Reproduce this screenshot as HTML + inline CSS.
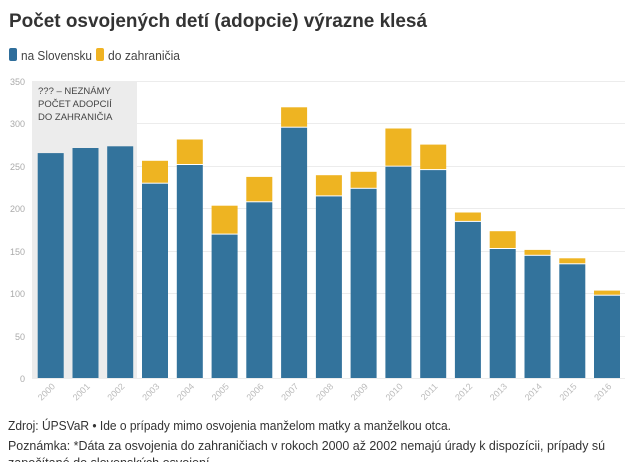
<!DOCTYPE html>
<html><head><meta charset="utf-8"><style>
html,body{margin:0;padding:0;background:#fff;width:640px;height:462px;overflow:hidden}
svg{display:block;font-family:"Liberation Sans",sans-serif}
</style></head><body>
<svg width="640" height="462" viewBox="0 0 640 462" xmlns="http://www.w3.org/2000/svg">
<text x="9" y="27" font-size="19" font-weight="bold" fill="#333" textLength="418" lengthAdjust="spacingAndGlyphs">Počet osvojených detí (adopcie) výrazne klesá</text>
<rect x="9" y="48" width="8" height="13" rx="2" fill="#2f6e9b"/>
<text x="21" y="60" font-size="13" fill="#444" textLength="71" lengthAdjust="spacingAndGlyphs">na Slovensku</text>
<rect x="96" y="48" width="8" height="13" rx="2" fill="#f0b323"/>
<text x="108" y="60" font-size="13" fill="#444" textLength="72" lengthAdjust="spacingAndGlyphs">do zahraničia</text>
<rect x="32" y="81" width="105" height="297" fill="#ececec"/>
<g stroke="#ececec" stroke-width="1">
<line x1="32" x2="625" y1="81.5" y2="81.5"/><line x1="32" x2="625" y1="123.5" y2="123.5"/>
<line x1="32" x2="625" y1="166.5" y2="166.5"/><line x1="32" x2="625" y1="208.5" y2="208.5"/>
<line x1="32" x2="625" y1="251.5" y2="251.5"/><line x1="32" x2="625" y1="293.5" y2="293.5"/>
<line x1="32" x2="625" y1="336.5" y2="336.5"/><line x1="32" x2="625" y1="378.5" y2="378.5"/>
</g>
<g font-size="9" fill="#aaa" text-anchor="end">
<text x="25" y="85">350</text><text x="25" y="127">300</text><text x="25" y="170">250</text>
<text x="25" y="212">200</text><text x="25" y="255">150</text><text x="25" y="297">100</text>
<text x="25" y="340">50</text><text x="25" y="382">0</text>
</g>
<g font-size="9.5" fill="#444">
<text x="38" y="94">??? – NEZNÁMY</text><text x="38" y="107">POČET ADOPCIÍ</text><text x="38" y="120">DO ZAHRANIČIA</text>
</g>
<g fill="#33739c">
<rect x="37.7" y="153.1" width="26" height="224.9"/>
<rect x="72.5" y="148.0" width="26" height="230"/>
<rect x="107.2" y="146.3" width="26" height="231.7"/>
<rect x="142.0" y="183.7" width="26" height="194.3"/>
<rect x="176.8" y="165.0" width="26" height="213"/>
<rect x="211.6" y="234.6" width="26" height="143.4"/>
<rect x="246.3" y="202.3" width="26" height="175.7"/>
<rect x="281.1" y="127.7" width="26" height="250.3"/>
<rect x="315.9" y="196.4" width="26" height="181.6"/>
<rect x="350.6" y="188.8" width="26" height="189.2"/>
<rect x="385.4" y="166.7" width="26" height="211.3"/>
<rect x="420.2" y="170.1" width="26" height="207.9"/>
<rect x="454.9" y="221.9" width="26" height="156.1"/>
<rect x="489.7" y="249.0" width="26" height="129"/>
<rect x="524.5" y="255.8" width="26" height="122.2"/>
<rect x="559.3" y="264.3" width="26" height="113.7"/>
<rect x="594.0" y="295.7" width="26" height="82.3"/>
</g>
<g fill="#eeb422">
<rect x="142.0" y="160.8" width="26" height="21.9"/>
<rect x="176.8" y="139.5" width="26" height="24.5"/>
<rect x="211.6" y="205.7" width="26" height="27.9"/>
<rect x="246.3" y="176.9" width="26" height="24.4"/>
<rect x="281.1" y="107.3" width="26" height="19.4"/>
<rect x="315.9" y="175.2" width="26" height="20.2"/>
<rect x="350.6" y="171.8" width="26" height="16"/>
<rect x="385.4" y="128.5" width="26" height="37.2"/>
<rect x="420.2" y="144.6" width="26" height="24.5"/>
<rect x="454.9" y="212.5" width="26" height="8.4"/>
<rect x="489.7" y="231.2" width="26" height="16.8"/>
<rect x="524.5" y="249.9" width="26" height="4.9"/>
<rect x="559.3" y="258.3" width="26" height="5"/>
<rect x="594.0" y="290.6" width="26" height="4.1"/>
</g>
<g font-size="9" fill="#bbb" text-anchor="end">
<text x="55.7" y="387" transform="rotate(-45 55.7 387)">2000</text>
<text x="90.5" y="387" transform="rotate(-45 90.5 387)">2001</text>
<text x="125.2" y="387" transform="rotate(-45 125.2 387)">2002</text>
<text x="160.0" y="387" transform="rotate(-45 160.0 387)">2003</text>
<text x="194.8" y="387" transform="rotate(-45 194.8 387)">2004</text>
<text x="229.6" y="387" transform="rotate(-45 229.6 387)">2005</text>
<text x="264.3" y="387" transform="rotate(-45 264.3 387)">2006</text>
<text x="299.1" y="387" transform="rotate(-45 299.1 387)">2007</text>
<text x="333.9" y="387" transform="rotate(-45 333.9 387)">2008</text>
<text x="368.6" y="387" transform="rotate(-45 368.6 387)">2009</text>
<text x="403.4" y="387" transform="rotate(-45 403.4 387)">2010</text>
<text x="438.2" y="387" transform="rotate(-45 438.2 387)">2011</text>
<text x="472.9" y="387" transform="rotate(-45 472.9 387)">2012</text>
<text x="507.7" y="387" transform="rotate(-45 507.7 387)">2013</text>
<text x="542.5" y="387" transform="rotate(-45 542.5 387)">2014</text>
<text x="577.3" y="387" transform="rotate(-45 577.3 387)">2015</text>
<text x="612.0" y="387" transform="rotate(-45 612.0 387)">2016</text>
</g>
<g font-size="12.5" fill="#333">
<text x="8" y="430" textLength="443" lengthAdjust="spacingAndGlyphs">Zdroj: ÚPSVaR • Ide o prípady mimo osvojenia manželom matky a manželkou otca.</text>
<text x="8" y="450" textLength="597" lengthAdjust="spacingAndGlyphs">Poznámka: *Dáta za osvojenia do zahraničiach v rokoch 2000 až 2002 nemajú úrady k dispozícii, prípady sú</text>
<text x="8" y="467" textLength="205" lengthAdjust="spacingAndGlyphs">započítané do slovenských osvojení.</text>
</g>
</svg>
</body></html>
